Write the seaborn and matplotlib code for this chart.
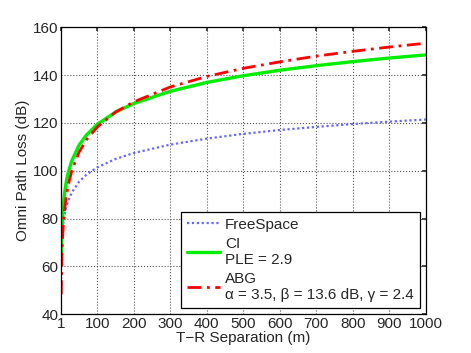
import pandas as pd
import matplotlib
matplotlib.use("Agg")
import matplotlib.pyplot as plt
import seaborn as sns

# T-R separation (m) and path loss values (dB)
dist = [1, 2, 3, 5, 7, 10, 15, 20, 30, 50, 70, 100, 150, 200, 300,
        400, 500, 600, 700, 800, 900, 1000]
free_space = [61.4, 67.4, 70.9, 75.4, 78.3, 81.4, 84.9, 87.4, 90.9, 95.4, 98.3,
              101.4, 104.9, 107.4, 110.9, 113.4, 115.4, 117.0, 118.3, 119.5,
              120.5, 121.4]
ci = [61.4, 70.1, 75.2, 81.7, 85.9, 90.4, 95.5, 99.1, 104.2, 110.7, 114.9,
      119.4, 124.5, 128.1, 133.2, 136.9, 139.7, 142.0, 143.9, 145.6, 147.1, 148.4]
abg = [48.3, 58.8, 65.0, 72.8, 77.9, 83.3, 89.5, 93.8, 100.0, 107.8, 112.9,
       118.3, 124.5, 128.8, 135.0, 139.4, 142.8, 145.5, 147.9, 149.9, 151.7, 153.3]
xticks = [1, 100, 200, 300, 400, 500, 600, 700, 800, 900, 1000]

df = pd.DataFrame({'d': dist, 'FreeSpace': free_space, 'CI': ci, 'ABG': abg})

sns.set_theme(style='white')
plt.rcParams['font.family'] = ['Liberation Sans', 'DejaVu Sans']

fig = plt.figure(figsize=(4.71, 3.53), dpi=100)
ax = fig.add_axes([0.13, 0.11, 0.774, 0.813])

sns.lineplot(ax=ax, data=df, x='d', y='FreeSpace', color=(0.4, 0.4, 1.0),
             linestyle=(0, (1, 1.2)), linewidth=1.6, label='FreeSpace')
sns.lineplot(ax=ax, data=df, x='d', y='CI', color='#00ee00', linewidth=2.4,
             label='CI\nPLE = 2.9')
sns.lineplot(ax=ax, data=df, x='d', y='ABG', color='#ff0000', linewidth=2.0,
             linestyle=(0, (5, 2, 1, 2)),
             label='ABG\n\u03b1 = 3.5, \u03b2 = 13.6 dB, \u03b3 = 2.4')

ax.set_xlim(1, 1000)
ax.set_ylim(40, 160)
ax.set_xticks(xticks)
ax.set_yticks(range(40, 161, 20))
ax.grid(True, linestyle=':', color='#555555', linewidth=0.8)
ax.tick_params(direction='in', top=True, right=True, length=3, labelsize=11,
               pad=2, color='#333333')
for s in ax.spines.values():
    s.set_color('black')
    s.set_linewidth(0.9)
ax.set_xlabel('T\u2212R Separation (m)', fontsize=11, labelpad=0)
ax.set_ylabel('Omni Path Loss (dB)', fontsize=11, labelpad=2)

leg = ax.legend(loc='lower right', fontsize=11, frameon=True, fancybox=False,
                edgecolor='black', framealpha=1, handlelength=2.2,
                borderaxespad=0.4, labelspacing=0.32, borderpad=0.4,
                handletextpad=0.3)
leg.get_frame().set_linewidth(0.9)

fig.savefig('out.png', dpi=100)
